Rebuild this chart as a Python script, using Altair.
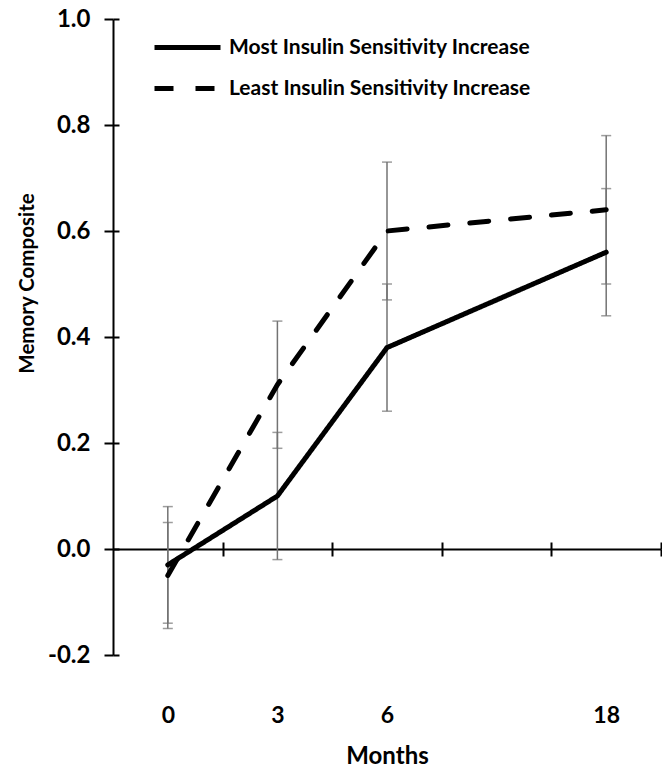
import altair as alt
import pandas as pd

# ---- data ----
months = ["0", "3", "6", "18"]
month_order = [0, 3, 6, 18]
axis_slots = ["0", "3", "6", "", "18"]
series_names = ["Most Insulin Sensitivity Increase", "Least Insulin Sensitivity Increase"]
most_mean = [-0.03, 0.10, 0.38, 0.56]
most_err = [0.11, 0.12, 0.12, 0.12]
least_mean = [-0.05, 0.31, 0.60, 0.64]
least_err = [0.10, 0.12, 0.13, 0.14]
y_ticks = [-0.2, 0.0, 0.2, 0.4, 0.6, 0.8, 1.0]

rows = []
for name, means, errs in [(series_names[0], most_mean, most_err),
                          (series_names[1], least_mean, least_err)]:
    for m, o, v, e in zip(months, month_order, means, errs):
        rows.append({"month": m, "order": o, "series": name,
                     "value": v, "lo": round(v - e, 3), "hi": round(v + e, 3)})
df = pd.DataFrame(rows)

FONT = "Lato"
W, H = 548, 636
Y_MIN, Y_MAX = -0.2, 1.0
zero_from_top = H * Y_MAX / (Y_MAX - Y_MIN)
step = W / len(axis_slots)
BAR = "#737373"

x_scale = alt.Scale(type="point", domain=axis_slots, padding=0.5)
y_scale = alt.Scale(domain=[Y_MIN, Y_MAX], nice=False, zero=False)

# error bars (also carry the zero-line axis and inner y ticks)
rules = alt.Chart(df).mark_rule(color=BAR, strokeWidth=1.5).encode(
    x=alt.X("month:O", scale=x_scale,
            axis=alt.Axis(orient="bottom", offset=zero_from_top - H, domain=True,
                          domainColor="black", domainWidth=2, ticks=True,
                          tickColor="black", tickWidth=2, tickSize=7,
                          tickOffset=step / 2, labels=False, title=None, grid=False)),
    y=alt.Y("lo:Q", scale=y_scale,
            axis=alt.Axis(orient="right", offset=-W, domain=False, ticks=True,
                          tickColor="black", tickWidth=2, tickSize=6, values=y_ticks,
                          labels=False, title=None, grid=False)),
    y2="hi:Q",
)

caps = alt.Chart(df).transform_fold(["lo", "hi"], as_=["bound", "bval"]).mark_tick(
    color=BAR, thickness=1.5, size=10, orient="horizontal"
).encode(
    x=alt.X("month:O", scale=x_scale,
            axis=alt.Axis(orient="top", offset=-zero_from_top, domain=False, ticks=True,
                          tickColor="black", tickWidth=2, tickSize=7,
                          tickOffset=step / 2, labels=False, title=None, grid=False)),
    y=alt.Y("bval:Q", scale=y_scale, axis=None),
)

lines = alt.Chart(df).mark_line(color="black", strokeWidth=5, strokeCap="round",
                                strokeJoin="round").encode(
    x=alt.X("month:O", scale=x_scale,
            axis=alt.Axis(orient="bottom", domain=False, ticks=False, tickSize=0,
                          labelPadding=49, labelAngle=0, labelFont=FONT,
                          labelFontSize=23, labelFontWeight="bold", labelColor="black",
                          title="Months", titleFont=FONT, titleFontSize=24,
                          titleFontWeight="bold", titleColor="black", titlePadding=17,
                          grid=False)),
    y=alt.Y("value:Q", scale=y_scale,
            axis=alt.Axis(orient="left", values=y_ticks,
                          labelExpr="datum.value < 0 ? '-' + format(-datum.value, '.1f') : format(datum.value, '.1f')",
                          domain=True, domainColor="black", domainWidth=2,
                          ticks=True, tickColor="black", tickWidth=2, tickSize=9,
                          labelPadding=14, labelFont=FONT, labelFontSize=24,
                          labelFontWeight="bold", labelColor="black",
                          title="Memory Composite", titleFont=FONT, titleFontSize=20.5,
                          titleFontWeight="bold", titleColor="black", titlePadding=10,
                          titleY=264, grid=False)),
    strokeDash=alt.StrokeDash(
        "series:N",
        scale=alt.Scale(domain=series_names, range=[[1, 0], [19, 22]]),
        legend=alt.Legend(title=None, orient="none", legendX=61, legendY=15,
                          symbolType="M-3,0L3,0", symbolSize=484, symbolStrokeWidth=5,
                          symbolStrokeColor="black", labelFont=FONT, labelFontSize=21,
                          labelFontWeight="bold", labelColor="black", labelOffset=28,
                          rowPadding=17, padding=0, labelLimit=0),
    ),
    order="order:Q",
)

chart = alt.layer(rules, caps, lines).resolve_axis(
    x="independent", y="independent"
).properties(
    width=W, height=H, autosize="none",
    padding={"left": 113, "top": 19, "right": 1, "bottom": 116},
    background="white",
).configure_view(stroke=None)

chart.save("out.html", embed_options={"renderer": "svg", "actions": False})
